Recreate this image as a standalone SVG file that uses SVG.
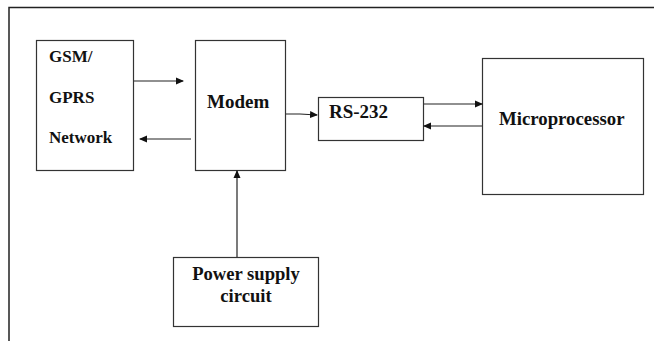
<svg xmlns="http://www.w3.org/2000/svg" width="654" height="341" viewBox="0 0 654 341">
<defs>
<style>
.box{fill:#fff;stroke:#333;stroke-width:1.2}
.ln{stroke:#222;stroke-width:1.2;fill:none}
.t{font-family:"Liberation Serif",serif;font-weight:bold;fill:#111}
</style>
<marker id="ah" markerWidth="8" markerHeight="8" refX="7" refY="4" orient="auto" markerUnits="userSpaceOnUse">
<path d="M0,0.5 L8,4 L0,7.5 Z" fill="#111"/>
</marker>
</defs>
<rect width="654" height="341" fill="#fff"/>
<g id="frame">
<path d="M9,341 V7.5 H654" fill="none" stroke="#222" stroke-width="1.5"/>
</g>
<g id="gsm">
<rect class="box" x="36.5" y="40.5" width="97" height="130"/>
<text class="t" x="49" y="62" font-size="17">GSM/</text>
<text class="t" x="49" y="103" font-size="17">GPRS</text>
<text class="t" x="49" y="143" font-size="17">Network</text>
</g>
<g id="modem">
<rect class="box" x="195.5" y="40.5" width="90" height="130"/>
<text class="t" x="207" y="108" font-size="19">Modem</text>
</g>
<g id="rs232">
<rect class="box" x="318.5" y="97.5" width="105" height="43"/>
<text class="t" x="329" y="118" font-size="19">RS-232</text>
</g>
<g id="micro">
<rect class="box" x="482.5" y="58.5" width="161" height="136"/>
<text class="t" x="499" y="125" font-size="18.8">Microprocessor</text>
</g>
<g id="power">
<rect class="box" x="173.5" y="257.5" width="145" height="69"/>
<text class="t" x="246" y="280" font-size="18.6" text-anchor="middle">Power supply</text>
<text class="t" x="246" y="302" font-size="18.6" text-anchor="middle">circuit</text>
</g>
<g id="connectors">
<line class="ln" x1="134" y1="81" x2="183" y2="81" marker-end="url(#ah)"/>
<line class="ln" x1="191" y1="139" x2="140" y2="139" marker-end="url(#ah)"/>
<path class="ln" d="M286,114 L300,114 L317,115" marker-end="url(#ah)"/>
<line class="ln" x1="424" y1="104" x2="482" y2="104" marker-end="url(#ah)"/>
<line class="ln" x1="482" y1="126" x2="424" y2="126" marker-end="url(#ah)"/>
<line class="ln" x1="237" y1="257" x2="237" y2="171" marker-end="url(#ah)"/>
</g>
</svg>
